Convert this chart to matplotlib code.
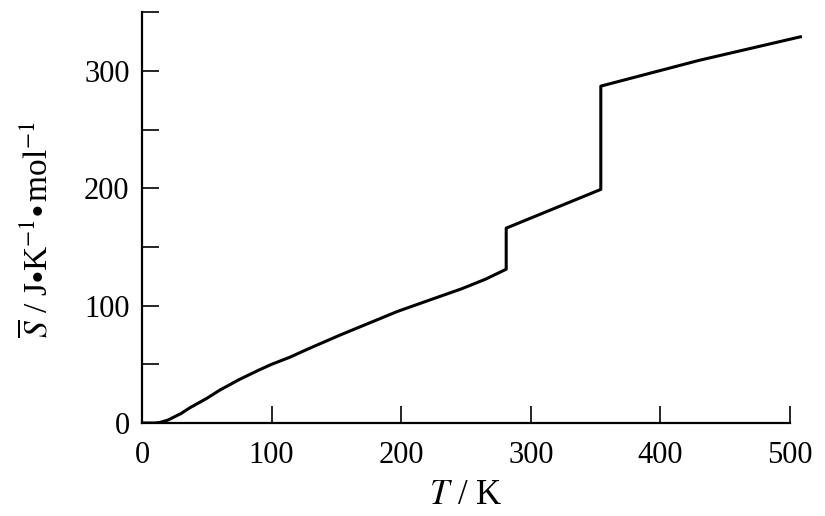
import matplotlib.pyplot as plt

plt.rcParams['font.family'] = 'Liberation Serif'
plt.rcParams['mathtext.fontset'] = 'stix'

# solid benzene
T_solid = [0, 10, 14, 20, 30, 37, 50, 60, 75, 90, 100, 114, 130, 153, 175, 197, 220, 247, 265, 281]
S_solid = [0, 0, 0.5, 2.5, 8, 13, 21, 28, 37, 45, 50, 56, 64, 75, 85, 95, 104, 114.5, 122.5, 131]
# liquid
T_liq = [281, 354]
S_liq = [166, 199]
# gas
T_gas = [354, 430, 508]
S_gas = [287, 309, 329]

T = T_solid + T_liq + T_gas
S = S_solid + S_liq + S_gas

fig = plt.figure(figsize=(8.25, 5.16), dpi=100)
ax = fig.add_axes([142/825, 93/516, (803-142)/825, (423-11)/516])

ax.plot(T, S, color='black', lw=2.2)

ax.set_xlim(0, 510)
ax.set_ylim(0, 351)
ax.spines['top'].set_visible(False)
ax.spines['right'].set_visible(False)
ax.spines['left'].set_linewidth(1.6)
ax.spines['bottom'].set_linewidth(1.6)
ax.spines['bottom'].set_bounds(0, 500)
ax.spines['left'].set_bounds(0, 350)

ax.set_xticks([0, 100, 200, 300, 400, 500])
ax.set_yticks([0, 100, 200, 300])
ax.set_yticks([50, 150, 250, 350], minor=True)
ax.tick_params(axis='both', which='both', direction='in', length=12, width=1.2,
               labelsize=22, colors='black')
ax.tick_params(axis='y', pad=9)
ax.tick_params(axis='x', pad=13)

ax.set_xlabel(r'$T$ / K', fontsize=25)
ax.xaxis.set_label_coords(0.49, -0.135)
ax.set_ylabel(r'$\overline{S}$ / J${\bullet}$K$^{-1}{\bullet}\,$mol$^{-1}$', fontsize=24)
ax.yaxis.set_label_coords(-0.133, 0.47)

fig.savefig('out.png', dpi=100)
